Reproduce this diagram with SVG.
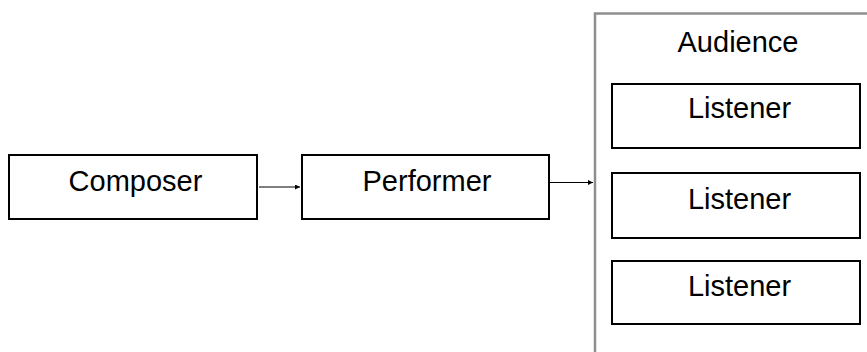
<svg xmlns="http://www.w3.org/2000/svg" width="867" height="352" viewBox="0 0 867 352">
  <defs>
    <style>
      .box { fill: #ffffff; stroke: #000000; stroke-width: 2; }
      .group { fill: #ffffff; stroke: #8e8e8e; stroke-width: 2.5; }
      .label { font-family: "Liberation Sans", Arial, sans-serif; font-size: 29px; fill: #000000; text-anchor: middle; }
      .edge { stroke: #000000; stroke-width: 1.2; fill: none; marker-end: url(#arrow); }
    </style>
    <marker id="arrow" viewBox="0 0 6 6" refX="6" refY="3" markerWidth="5" markerHeight="5" markerUnits="userSpaceOnUse" orient="auto">
      <path d="M0,0 L6,3 L0,6 Z" fill="#000000"/>
    </marker>
  </defs>
  <rect width="867" height="352" fill="#ffffff"/>

  <g id="audience">
    <rect class="group" x="595" y="13.5" width="300" height="400"/>
    <text class="label" x="738" y="52">Audience</text>
  </g>

  <g id="composer">
    <rect class="box" x="9" y="155" width="248" height="64"/>
    <text class="label" x="135.5" y="191">Composer</text>
  </g>

  <g id="performer">
    <rect class="box" x="302" y="155" width="247" height="64"/>
    <text class="label" x="427" y="191">Performer</text>
  </g>

  <g id="listener-1">
    <rect class="box" x="612" y="84" width="248" height="64"/>
    <text class="label" x="739.5" y="118">Listener</text>
  </g>

  <g id="listener-2">
    <rect class="box" x="612" y="173" width="248" height="65"/>
    <text class="label" x="739.5" y="208.5">Listener</text>
  </g>

  <g id="listener-3">
    <rect class="box" x="612" y="261" width="248" height="63"/>
    <text class="label" x="739.5" y="296">Listener</text>
  </g>

  <g id="connectors">
    <line class="edge" x1="259" y1="187" x2="300" y2="187"/>
    <line class="edge" x1="550" y1="182.5" x2="593" y2="182.5"/>
  </g>
</svg>
